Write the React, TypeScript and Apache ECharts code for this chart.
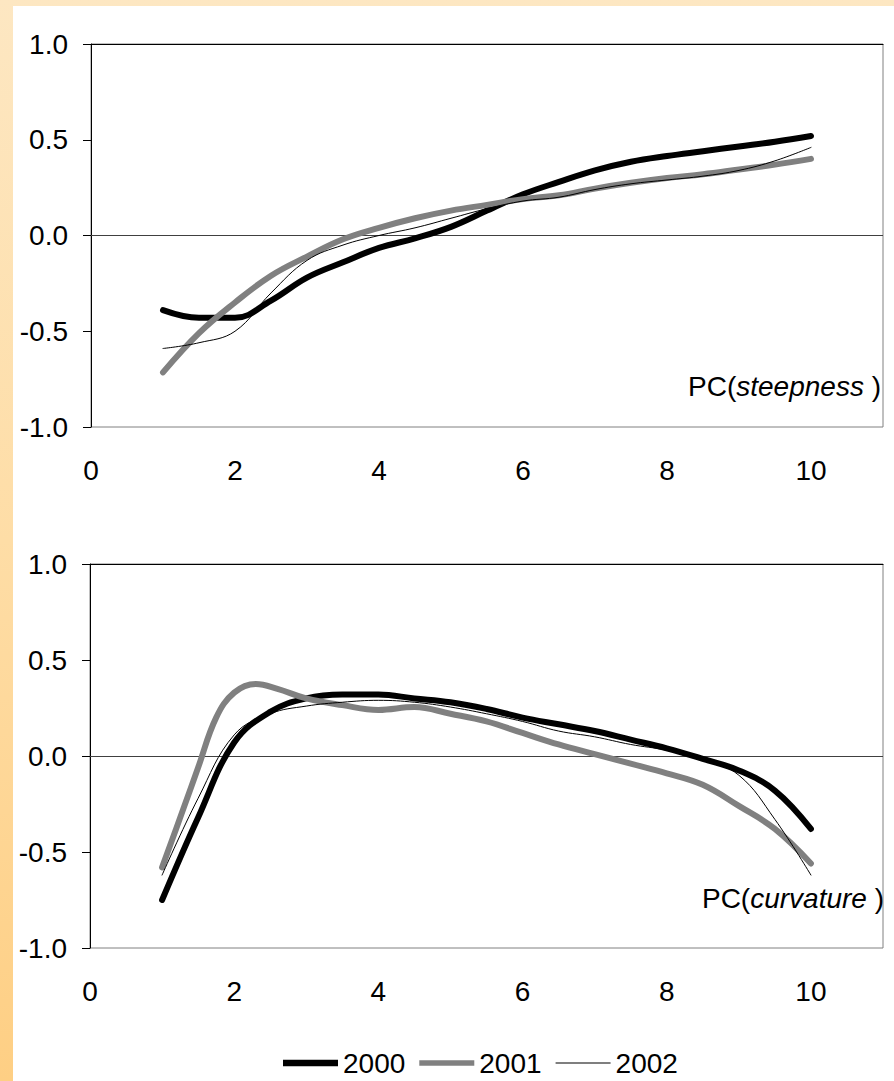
import React, { useEffect, useRef } from "react";
import * as echarts from "echarts";

// ---- data ----
const years = ["2000", "2001", "2002"];
const xs = [1, 1.5, 2, 2.5, 3, 3.5, 4, 4.5, 5, 5.5, 6, 6.5, 7, 7.5, 8, 8.5, 9, 9.5, 10];

const steep2000 = [-0.39, -0.43, -0.43, -0.34, -0.22, -0.14, -0.065, -0.015, 0.045, 0.13, 0.215, 0.28, 0.34, 0.385, 0.415, 0.44, 0.465, 0.49, 0.52];
const steep2001 = [-0.715, -0.51, -0.35, -0.21, -0.11, -0.02, 0.04, 0.09, 0.13, 0.16, 0.19, 0.21, 0.245, 0.275, 0.3, 0.32, 0.345, 0.37, 0.4];
const steep2002 = [-0.59, -0.56, -0.5, -0.3, -0.13, -0.05, 0.0, 0.04, 0.09, 0.14, 0.18, 0.2, 0.24, 0.27, 0.29, 0.31, 0.34, 0.39, 0.46];

const curv2000 = [-0.75, -0.32, 0.07, 0.23, 0.3, 0.32, 0.32, 0.3, 0.28, 0.245, 0.2, 0.165, 0.13, 0.085, 0.04, -0.015, -0.075, -0.18, -0.38];
const curvXs2001 = [1, 1.3, 1.5, 1.75, 2, 2.3, 2.6, 3, 3.5, 4, 4.5, 5, 5.5, 6, 6.5, 7, 7.5, 8, 8.5, 9, 9.5, 10];
const curv2001 = [-0.58, -0.27, -0.06, 0.2, 0.33, 0.375, 0.35, 0.3, 0.265, 0.24, 0.255, 0.22, 0.18, 0.12, 0.06, 0.01, -0.04, -0.09, -0.15, -0.26, -0.38, -0.56];
const curv2002 = [-0.62, -0.22, 0.11, 0.22, 0.26, 0.28, 0.29, 0.28, 0.255, 0.22, 0.18, 0.13, 0.1, 0.06, 0.03, -0.02, -0.1, -0.33, -0.62];

const xTickLabels = [0, 2, 4, 6, 8, 10];
const yTickLabels = [-1, -0.5, 0, 0.5, 1];
const panelLabels = [["PC(", "steepness ", ")"], ["PC(", "curvature ", ")"]];

const FONT = "'Liberation Sans', Arial, sans-serif";

const pairs = (x: number[], y: number[]) => x.map((v, i) => [v, y[i]]);

export default function App() {
  const ref = useRef<HTMLDivElement>(null);
  useEffect(() => {
    if (!ref.current) return;
    const chart = echarts.init(ref.current, null, { renderer: "svg" });

    const styles = [
      { color: "#000000", width: 6, icon: "path://M0,0H52V6H0Z" },
      { color: "#808080", width: 6, icon: "path://M0,0H58V6H0Z" },
      { color: "#000000", width: 1, icon: "path://M0,0H52V1H0Z" },
    ];

    const grids = [
      { left: 91, top: 44, width: 792, height: 383 },
      { left: 90, top: 564, width: 793, height: 384 },
    ];

    const xAxis: any[] = [];
    const yAxis: any[] = [];
    grids.forEach((g, gi) => {
      xAxis.push({
        type: "value",
        gridIndex: gi,
        min: 0,
        max: 11,
        interval: 1,
        position: "bottom",
        axisLine: { show: false, onZero: false },
        axisTick: { show: false },
        splitLine: { show: false },
        axisLabel: {
          margin: 29,
          fontSize: 28,
          fontFamily: FONT,
          color: "#000",
          formatter: (v: number) => (xTickLabels.includes(v) ? String(v) : ""),
        },
      });
      xAxis.push({
        type: "value",
        gridIndex: gi,
        min: 0,
        max: 11,
        position: "top",
        axisLine: { show: true, onZero: false, lineStyle: { color: "#000", width: 1 } },
        axisTick: { show: false },
        axisLabel: { show: false },
        splitLine: { show: false },
      });
      yAxis.push({
        type: "value",
        gridIndex: gi,
        min: -1,
        max: 1,
        interval: 0.5,
        axisLine: { show: true, lineStyle: { color: "#000", width: 1 } },
        axisTick: { show: true, length: 8, lineStyle: { color: "#000" } },
        splitLine: { show: false },
        axisLabel: {
          margin: 23,
          fontSize: 28,
          fontFamily: FONT,
          color: "#000",
          formatter: (v: number) => (yTickLabels.includes(v) ? v.toFixed(1) : ""),
        },
      });
    });

    const panelData = [
      [pairs(xs, steep2000), pairs(xs, steep2001), pairs(xs, steep2002)],
      [pairs(xs, curv2000), pairs(curvXs2001, curv2001), pairs(xs, curv2002)],
    ];

    const series: any[] = [];
    panelData.forEach((pd, gi) => {
      pd.forEach((d, si) => {
        series.push({
          type: "line",
          name: years[si],
          xAxisIndex: gi * 2,
          yAxisIndex: gi,
          data: d,
          smooth: 0.4,
          symbol: "none",
          showSymbol: false,
          lineStyle: { color: styles[si].color, width: styles[si].width, cap: "round", join: "round" },
          itemStyle: { color: styles[si].color },
          z: 3 + si,
          markLine:
            si === 0
              ? {
                  silent: true,
                  symbol: "none",
                  label: { show: false },
                  lineStyle: { color: "#404040", width: 1, type: "solid" },
                  data: [{ yAxis: 0 }],
                  z: 1,
                }
              : undefined,
        });
      });
    });

    const labelPos = [
      { x: 881, y: 386 },
      { x: 884, y: 898 },
    ];

    chart.setOption({
      animation: false,
      backgroundColor: "transparent",
      textStyle: { fontFamily: FONT },
      grid: grids.map((g) => ({ ...g, show: true, borderColor: "#808080", borderWidth: 1, backgroundColor: "#fff" })),
      xAxis,
      yAxis,
      series,
      legend: {
        data: years.map((y, i) => ({
          name: y,
          icon: styles[i].icon,
          itemStyle: { color: styles[i].color },
        })),
        left: 283,
        top: 1049,
        padding: 0,
        itemWidth: 55,
        itemHeight: 28,
        itemGap: 14,
        textStyle: { fontSize: 28, fontFamily: FONT, color: "#000" },
      },
      graphic: panelLabels.map((pl, i) => ({
        type: "text",
        x: labelPos[i].x,
        y: labelPos[i].y,
        style: {
          text: `{a|${pl[0]}}{b|${pl[1]}}{a|${pl[2]}}`,
          align: "right",
          verticalAlign: "middle",
          rich: {
            a: { fontSize: 28, fontFamily: FONT, fill: "#000", color: "#000" },
            b: { fontSize: 28, fontFamily: FONT, fontStyle: "italic", fill: "#000", color: "#000" },
          },
        },
      })),
    });

    return () => chart.dispose();
  }, []);

  return (
    <div
      style={{
        position: "absolute",
        left: 0,
        top: 0,
        width: 894,
        height: 1081,
        background: "linear-gradient(to bottom, #FDE7C2 0%, #FEDDA6 50%, #FECF84 100%)",
      }}
    >
      <div style={{ position: "absolute", left: 13, top: 6, right: 0, bottom: 0, background: "#fff" }} />
      <div ref={ref} style={{ position: "absolute", left: 0, top: 0, width: 894, height: 1081 }} />
    </div>
  );
}
